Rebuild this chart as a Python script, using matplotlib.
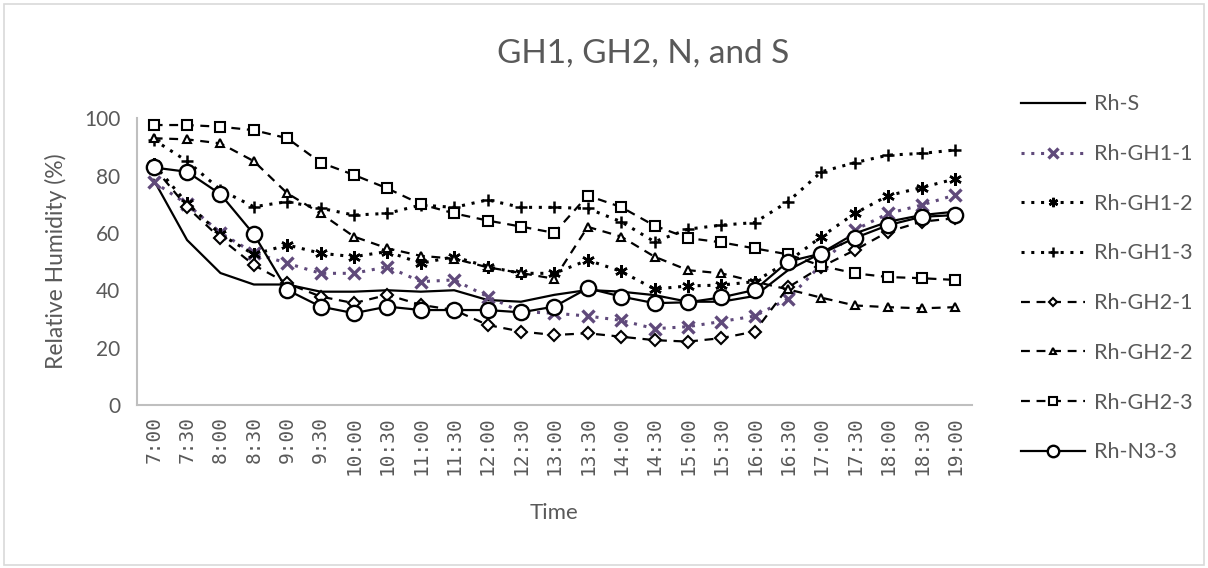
import matplotlib
matplotlib.use("Agg")
import matplotlib.pyplot as plt
from matplotlib.patches import Rectangle

plt.rcParams['font.family'] = ['Lato', 'DejaVu Sans']

times = ['7:00', '7:30', '8:00', '8:30', '9:00', '9:30', '10:00', '10:30', '11:00', '11:30',
         '12:00', '12:30', '13:00', '13:30', '14:00', '14:30', '15:00', '15:30', '16:00', '16:30',
         '17:00', '17:30', '18:00', '18:30', '19:00']

rh_s = [78.5, 57.5, 46, 42, 42, 39.5, 39.5, 40, 39.5, 40, 36.6, 36, 38.4, 40.1, 39.5, 38.3,
        36, 36, 38, 47, 53, 59.8, 63.9, 66.2, 67.4]
rh_gh1_1 = [77.8, 70, 60, 53, 49.4, 45.9, 45.9, 48.2, 43, 43.6, 37.8, 32.5, 32, 31, 29.5, 26.6,
            27.3, 29.1, 31, 37, 49, 61, 66.8, 69.7, 73.2]
rh_gh1_2 = [84, 70.3, 59.5, 52.5, 55.8, 52.9, 51.7, 53.5, 49.4, 51.7, 48.2, 45.9, 45.9, 50.5, 46.6, 40.4,
            41.5, 41.8, 43, 50, 58.7, 66.8, 73, 75.8, 78.8]
rh_gh1_3 = [92.5, 85, 75, 69.1, 70.9, 68.6, 66.2, 66.8, 69.7, 68.9, 71.5, 68.9, 68.9, 68.5, 63.9, 56.9,
            61.3, 62.7, 63.6, 70.9, 81.3, 84.5, 87.1, 87.7, 88.9]
rh_gh2_1 = [83, 69, 58.1, 48.8, 42.4, 37.8, 35.5, 38.4, 34.9, 33.1, 27.9, 25.6, 24.4, 25, 23.8, 22.6,
            22.1, 23.3, 25.6, 41, 48.2, 54, 60.4, 63.9, 65.1]
rh_gh2_2 = [93, 92.6, 91.2, 85, 73.8, 66.8, 58.7, 54.6, 52, 51, 48, 46, 44, 62.1, 58.7, 51.7,
            47, 45.9, 43, 40.3, 37.4, 34.7, 34.1, 33.7, 34.1]
rh_gh2_3 = [97.6, 97.6, 97, 95.8, 93, 84.5, 80.2, 75.5, 70, 66.8, 64.3, 62.2, 60, 73, 69, 62.5,
            58.2, 56.7, 54.6, 52.5, 48.5, 45.9, 44.6, 44.2, 43.6]
rh_n3_3 = [82.8, 81.3, 73.5, 59.5, 40.1, 34.3, 32, 34.3, 33.1, 33.1, 33.1, 32.3, 34.3, 40.7, 37.8, 35.5,
           35.8, 37.5, 40.1, 50, 52.8, 58.2, 62.7, 65.6, 66.2]

grey = '#595959'
purple = '#604a7b'
dot = (0, (1, 2.2))
dash = (0, (4, 3))

fig = plt.figure(figsize=(12.08, 5.68), dpi=100)
fig.patches.append(Rectangle((0.003, 0.005), 0.994, 0.988, transform=fig.transFigure,
                             fill=False, edgecolor='#d9d9d9', lw=1.2))
ax = fig.add_axes([0.1134, 0.287, 0.691, 0.505])

x = list(range(len(times)))
ax.plot(x, rh_s, color='black', lw=1.6, label='Rh-S')
ax.plot(x, rh_gh1_1, color=purple, lw=2.2, ls=dot, marker='x', ms=9, mew=2.4, label='Rh-GH1-1')
ax.plot(x, rh_gh1_2, color='black', lw=2.2, ls=dot, marker=(6, 2, 0), ms=9, mew=1.8, label='Rh-GH1-2')
ax.plot(x, rh_gh1_3, color='black', lw=2.2, ls=dot, marker='+', ms=9, mew=1.8, label='Rh-GH1-3')
ax.plot(x, rh_gh2_1, color='black', lw=1.6, ls=dash, marker='D', ms=6, mfc='white', mew=1.5,
        label='Rh-GH2-1')
ax.plot(x, rh_gh2_2, color='black', lw=1.6, ls=dash, marker='^', ms=6, mfc='white', mew=1.5,
        label='Rh-GH2-2')
ax.plot(x, rh_gh2_3, color='black', lw=1.6, ls=dash, marker='s', ms=7, mfc='white', mew=1.5,
        label='Rh-GH2-3')
ax.plot(x, rh_n3_3, color='black', lw=1.6, marker='o', ms=11, mfc='white', mew=1.7, label='Rh-N3-3')

ax.set_xlim(-0.5, len(times) - 0.5)
ax.set_ylim(0, 100)
ax.set_yticks([0, 20, 40, 60, 80, 100])
ax.set_xticks(x)
ax.set_xticklabels(times, rotation=90, family='DejaVu Sans Mono', fontsize=14, color=grey)
ax.tick_params(axis='y', labelsize=15, labelcolor=grey, length=0, pad=12)
ax.tick_params(axis='x', length=0, pad=8)
for s in ['top', 'right']:
    ax.spines[s].set_visible(False)
for s in ['left', 'bottom']:
    ax.spines[s].set_color('#bfbfbf')
    ax.spines[s].set_linewidth(1.5)

ax.set_ylabel('Relative Humidity (%)', fontsize=16.5, color=grey, labelpad=12)
ax.set_xlabel('Time', fontsize=16, color=grey, labelpad=20)
fig.text(0.532, 0.905, 'GH1, GH2, N, and S', fontsize=24, color=grey, ha='center', va='center')

leg = fig.legend(loc='upper left', bbox_to_anchor=(0.829, 0.868), frameon=False, fontsize=15.5,
                 labelcolor=grey, handlelength=3.0, labelspacing=1.38, handletextpad=0.4)
for h in leg.legend_handles:
    h.set_markersize(h.get_markersize() * 0.75)

fig.savefig('out.png', dpi=100)
